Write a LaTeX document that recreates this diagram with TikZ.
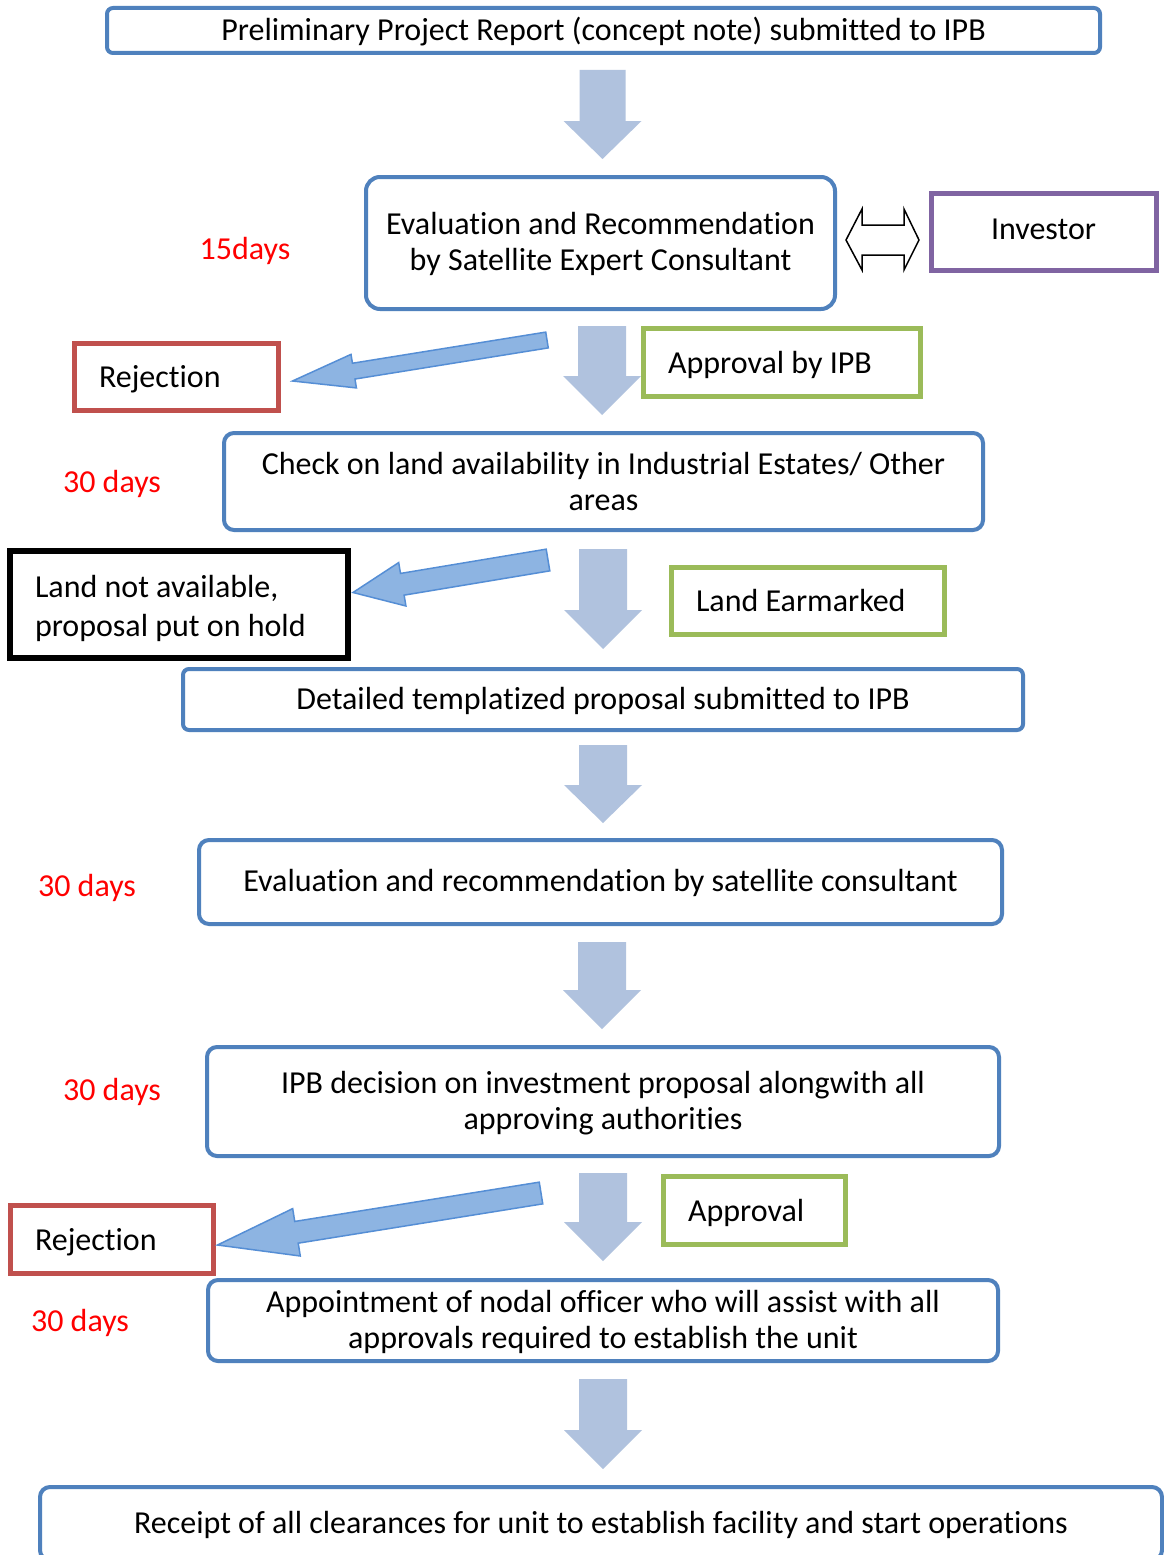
\documentclass[tikz,border=0pt]{standalone}
\usepackage{fontspec}
\setmainfont{Carlito}[Ligatures=NoCommon]
\usetikzlibrary{calc}
\definecolor{bxblue}{RGB}{79,129,189}
\definecolor{bxgreen}{RGB}{155,187,89}
\definecolor{bxred}{RGB}{192,80,77}
\definecolor{bxpurple}{RGB}{128,100,162}
\definecolor{vacol}{RGB}{176,194,222}
\definecolor{dacol}{RGB}{141,180,226}
\definecolor{dacolb}{RGB}{85,142,213}
\newcommand\blockarr[6]{%
  \coordinate (ba-h) at ($(#3)!#6!(#2)$);
  \path[#1] ($(#2)!#4!90:(#3)$) -- ($(ba-h)!#4!90:(#3)$) -- ($(ba-h)!#5!90:(#3)$) -- (#3)
    -- ($(ba-h)!#5!-90:(#3)$) -- ($(ba-h)!#4!-90:(#3)$) -- ($(#2)!#4!-90:(#3)$) -- cycle;
}
\tikzset{
  mainbox/.style={draw=bxblue, line width=4pt, rounded corners=10pt, fill=white, align=center, inner sep=0pt, text depth=3pt},
  sidebox/.style={line width=5pt, fill=white, inner ysep=0pt, inner xsep=25pt, align=flush left},
  days/.style={text=red, inner sep=0pt},
  varrow/.style={fill=vacol},
  darrow/.style={fill=dacol, draw=dacolb, line width=1.5pt, line join=miter},
}
\begin{document}
\begin{tikzpicture}[x=1pt,y=-1pt,font=\fontsize{32}{36}\selectfont]
\clip (0,0) rectangle (1164,1555);
\fill[white] (0,0) rectangle (1164,1555);
% main boxes
\node[mainbox, rounded corners=6pt, minimum width=993pt, minimum height=45pt] (b1) at (603.5,30.5) {Preliminary Project Report (concept note) submitted to IPB};
\node[mainbox, rounded corners=14pt, minimum width=469pt, minimum height=132pt] (b2) at (600.5,243) {Evaluation and Recommendation\\by Satellite Expert Consultant};
\node[mainbox, text depth=0pt, minimum width=759pt, minimum height=97pt] (b3) at (603.5,481.5) {Check on land availability in Industrial Estates/ Other\\areas};
\node[mainbox, rounded corners=6pt, minimum width=840pt, minimum height=61pt] (b4) at (603,699.5) {Detailed templatized proposal submitted to IPB};
\node[mainbox, minimum width=803pt, minimum height=84pt] (b5) at (600.5,882) {Evaluation and recommendation by satellite consultant};
\node[mainbox, minimum width=792pt, minimum height=109pt] (b6) at (603,1101.5) {IPB decision on investment proposal alongwith all\\approving authorities};
\node[mainbox, minimum width=790pt, minimum height=81pt] (b7) at (603,1320.5) {Appointment of nodal officer who will assist with all\\approvals required to establish the unit};
\node[mainbox, anchor=north, minimum width=1122pt, inner ysep=24pt] (b8) at (601,1485) {Receipt of all clearances for unit to establish facility and start operations};
% side boxes
\node[draw=bxpurple, line width=5pt, fill=white, minimum width=225pt, minimum height=77pt, inner sep=0pt, text depth=4pt] (inv) at (1043.5,231.5) {Investor};
\node[sidebox, text depth=0pt, draw=bxred, minimum width=204pt, minimum height=67pt, text width=154pt] (rej1) at (176,376.5) {Rejection};
\node[sidebox, text depth=0pt, draw=bxgreen, minimum width=277pt, minimum height=68pt, text width=227pt] (app1) at (781.5,362) {Approval by IPB};
\node[sidebox, draw=black, line width=6pt, minimum width=338pt, minimum height=107pt, text width=288pt, text depth=36pt, font=\fontsize{32}{39}\selectfont] (land) at (179,604.5) {Land not available,\\proposal put on hold};
\node[sidebox, text depth=0pt, draw=bxgreen, minimum width=273pt, minimum height=67pt, text width=223pt] (earm) at (807.5,600.5) {Land Earmarked};
\node[sidebox, text depth=0pt, draw=bxgreen, minimum width=182pt, minimum height=68pt, text width=132pt] (app2) at (754,1210) {Approval};
\node[sidebox, text depth=0pt, draw=bxred, minimum width=203pt, minimum height=68pt, text width=153pt] (rej2) at (111.5,1239) {Rejection};
% day labels
\node[days] (d1) at (245,251) {15days};
\node[days] (d2) at (112,484) {30 days};
\node[days] (d3) at (87,888) {30 days};
\node[days] (d4) at (112,1092) {30 days};
\node[days] (d5) at (80,1323) {30 days};
% vertical block arrows
\coordinate (a1s) at ($(b1.south)+(-1,15)$);
\coordinate (a1e) at ($(a1s |- b2.north)+(0,-16)$);
\blockarr{varrow}{a1s}{a1e}{23pt}{39pt}{38pt}
\coordinate (a2s) at ($(b2.south)+(1.5,15)$);
\coordinate (a2e) at ($(a2s |- b3.north)+(0,-16)$);
\blockarr{varrow}{a2s}{a2e}{24pt}{39pt}{39pt}
\coordinate (a3s) at ($(b3.south)+(-0.5,17)$);
\coordinate (a3e) at ($(a3s |- b4.north)+(0,-18)$);
\blockarr{varrow}{a3s}{a3e}{24pt}{39pt}{39pt}
\coordinate (a4s) at ($(b4.south)+(0,13)$);
\coordinate (a4e) at ($(a4s |- b5.north)+(0,-15)$);
\blockarr{varrow}{a4s}{a4e}{24pt}{39pt}{38pt}
\coordinate (a5s) at ($(b5.south)+(1.5,16)$);
\coordinate (a5e) at ($(a5s |- b6.north)+(0,-16)$);
\blockarr{varrow}{a5s}{a5e}{24pt}{39pt}{39pt}
\coordinate (a6s) at ($(b6.south)+(0,15)$);
\coordinate (a6e) at ($(a6s |- b7.north)+(0,-17)$);
\blockarr{varrow}{a6s}{a6e}{24pt}{39pt}{39pt}
\coordinate (a7s) at ($(b7.south)+(0,16)$);
\coordinate (a7e) at ($(a7s |- b8.north)+(0,-16)$);
\blockarr{varrow}{a7s}{a7e}{24pt}{39pt}{39pt}
% diagonal block arrows
\coordinate (r1s) at (547,340);
\coordinate (r1e) at ($(rej1.east)+(12,4.5)$);
\blockarr{darrow}{r1s}{r1e}{8pt}{17pt}{62pt}
\coordinate (r2s) at (548,560);
\coordinate (r2e) at ($(land.east)+(2,-12)$);
\blockarr{darrow}{r2s}{r2e}{11pt}{22pt}{50pt}
\coordinate (r3s) at (541,1193);
\coordinate (r3e) at ($(rej2.east)+(2,6)$);
\blockarr{darrow}{r3s}{r3e}{11pt}{24pt}{80pt}
% double arrow between consultant and investor
\draw[line width=1.5pt, fill=white, line join=miter] (846,240) -- (862,209) -- (862,225) -- (904,225) -- (904,209) -- (919,240) -- (904,270) -- (904,255) -- (862,255) -- (862,270) -- cycle;
\end{tikzpicture}
\end{document}
